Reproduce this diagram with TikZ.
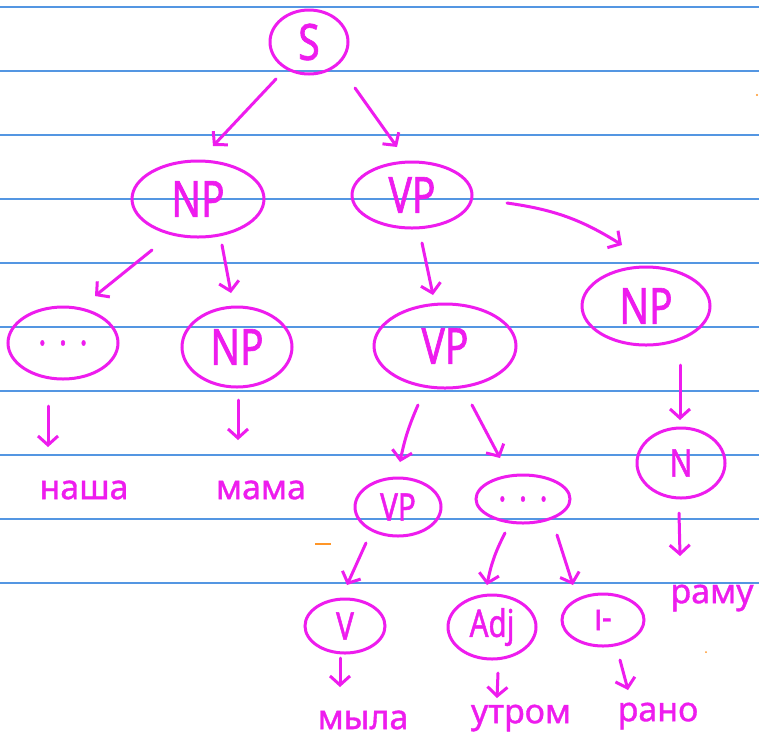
\documentclass[tikz,border=0pt]{standalone}
\usepackage{fontspec}
\setmainfont{Noto Sans}
\newfontfamily\narrowhand[FakeStretch=0.78,FakeBold=1.2]{Noto Sans}
\newfontfamily\wordhand[FakeBold=1]{Noto Sans}
\usetikzlibrary{shapes.geometric,arrows.meta,calc}
\definecolor{ink}{RGB}{238,28,238}
\definecolor{ruling}{RGB}{84,150,226}
\definecolor{marker}{RGB}{255,150,40}
\begin{document}
\begin{tikzpicture}[x=1pt,y=-1pt,
  bubble/.style={ellipse, draw=ink, line width=3pt, inner sep=0pt, text=ink},
  big/.style={font=\narrowhand\fontsize{50}{50}\selectfont},
  small/.style={font=\narrowhand\fontsize{38}{38}\selectfont},
  word/.style={text=ink, inner sep=0pt, font=\wordhand\fontsize{34}{34}\selectfont},
  arr/.style={draw=ink, line width=3pt, line cap=round, line join=round,
    -{Straight Barb[length=9pt,width=20pt,line width=3pt]}}
]
% paper
\fill[white] (0,0) rectangle (759,748);
\useasboundingbox (0,0) rectangle (759,748);
\foreach \k in {0,...,9}
  \draw[ruling, line width=1.3pt] (0,7+64*\k) -- (759,7+64*\k);

% tree nodes
\node[bubble, minimum width=78pt, minimum height=64pt, font=\narrowhand\fontsize{50}{50}\selectfont] (S) at (309,42) {S};
\node[bubble, big, minimum width=132pt, minimum height=76pt] (NPa) at (198,199) {NP};
\node[bubble, big, minimum width=120pt, minimum height=66pt] (VPa) at (412,195) {VP};
\node[bubble, small, minimum width=110pt, minimum height=72pt] (DOTa) at (63,343) {.\,\,.\,\,.};
\node[bubble, big, minimum width=110pt, minimum height=80pt] (NPb) at (237,347) {NP};
\node[bubble, big, minimum width=142pt, minimum height=84pt] (VPb) at (445,346) {VP};
\node[bubble, big, minimum width=128pt, minimum height=78pt] (NPc) at (646,306) {NP};
\node[bubble, small, minimum width=88pt, minimum height=70pt] (Nn) at (681,463) {N};
\node[bubble, small, minimum width=86pt, minimum height=58pt] (VPc) at (398,507) {VP};
\node[bubble, small, minimum width=94pt, minimum height=48pt] (DOTb) at (523,499) {.\,\,.\,\,.};
\node[bubble, small, minimum width=80pt, minimum height=54pt] (Vv) at (345,626) {V};
\node[bubble, small, minimum width=88pt, minimum height=64pt] (Adj) at (492,627) {Adj};
\node[bubble, small, minimum width=82pt, minimum height=52pt] (DOTc) at (603,620) {ı-};

% words
\node[word] (nasha) at (84,490) {наша};
\node[word] (mama) at (261,490) {мама};
\node[word] (myla) at (363,720) {мыла};
\node[word] (utrom) at (521,718) {утром};
\node[word] (rano) at (658,716) {рано};
\node[word] (ramu) at (712,598) {раму};

% branches
\draw[arr] ($(S)+(-33,37)$) -- ($(NPa)+(15,-53)$);
\draw[arr] ($(S)+(46,46)$) -- ($(VPa)+(-15,-48)$);
\draw[arr] ($(NPa)+(-46,51)$) -- ($(DOTa)+(32,-47)$);
\draw[arr] ($(NPa)+(24,46)$) -- ($(NPb)+(-6,-54)$);
\draw[arr] ($(VPa)+(10,48)$) -- ($(VPb)+(-12,-51)$);
\draw[arr] ($(VPa)+(95,8)$) to[bend left=12] ($(NPc)+(-24,-61)$);
\draw[arr] ($(VPb)+(-27,59)$) to[bend right=6] ($(VPc)+(2,-45)$);
\draw[arr] ($(VPb)+(27,59)$) -- ($(DOTb)+(-23,-41)$);
\draw[arr] ($(NPc)+(34,59)$) -- ($(Nn)+(-1,-43)$);
\draw[arr] ($(Nn)+(-2,50)$) -- ($(ramu)+(-32,-42)$);
\draw[arr] ($(VPc)+(-32,36)$) -- ($(Vv)+(2,-41)$);
\draw[arr] ($(DOTb)+(-18,34)$) to[bend right=8] ($(Adj)+(-5,-42)$);
\draw[arr] ($(DOTb)+(34,36)$) -- ($(DOTc)+(-30,-35)$);
\draw[arr] ($(DOTa)+(-15,63)$) -- ($(nasha)+(-36,-43)$);
\draw[arr] ($(NPb)+(1,53)$) -- ($(mama)+(-23,-50)$);
\draw[arr] ($(Vv)+(-5,32)$) -- ($(myla)+(-23,-33)$);
\draw[arr] ($(Adj)+(6,46)$) -- ($(utrom)+(-24,-20)$);
\draw[arr] ($(DOTc)+(17,40)$) -- ($(rano)+(-30,-26)$);

% stray marker strokes
\draw[marker, line width=1.6pt] (315,544) -- (331,544);
\fill[marker] (757,95) circle (1.2);
\fill[marker] (706,652) circle (1);
\end{tikzpicture}
\end{document}
